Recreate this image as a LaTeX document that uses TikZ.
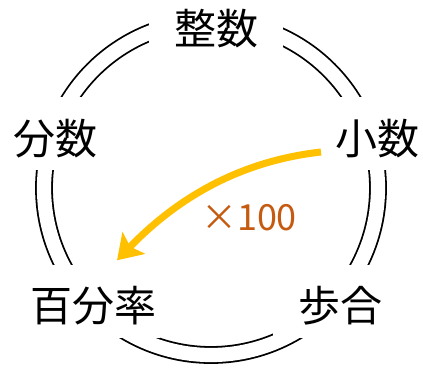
\documentclass[tikz,border=0pt]{standalone}
\usepackage{fontspec}
\newfontfamily\jp{Noto Sans CJK JP}
\usetikzlibrary{arrows.meta}
\definecolor{arrowyellow}{HTML}{FFC000}
\definecolor{labelorange}{HTML}{C55A11}
\begin{document}
\begin{tikzpicture}[x=1pt,y=-1pt,
    term/.style={fill=white,font=\jp\fontsize{42}{42}\selectfont,text height=41pt,text depth=0pt,inner ysep=16pt,inner xsep=4pt},
    ring/.style={draw=black,line width=1.8pt,double=white,double distance=14.2pt},
    conv/.style={draw=arrowyellow,line width=7pt,-{Stealth[length=24pt,width=31pt,inset=5pt]}}]
    \useasboundingbox (0,0) rectangle (423,368);
    \coordinate (c) at (211,188);
    \draw[ring] (c) circle[radius=167];

    \node[term,inner xsep=25pt] (seisu) at (216,23.5) {整数};
    \node[term] (bunsu) at (55,133.5) {分数};
    \node[term] (shosu) at (377,133.5) {小数};
    \node[term] (hyaku) at (93,301) {百分率};
    \node[term,inner xsep=25pt] (buai) at (340,301) {歩合};

    \path[conv] ([shift={(-56,18.5)}]shosu.center) .. controls (250,160) and (185,190) .. ([shift={(24,-4)}]hyaku.north);
    \node[text=labelorange,font=\jp\fontsize{36}{36}\selectfont] (times) at (249,218) {×100};
\end{tikzpicture}
\end{document}
